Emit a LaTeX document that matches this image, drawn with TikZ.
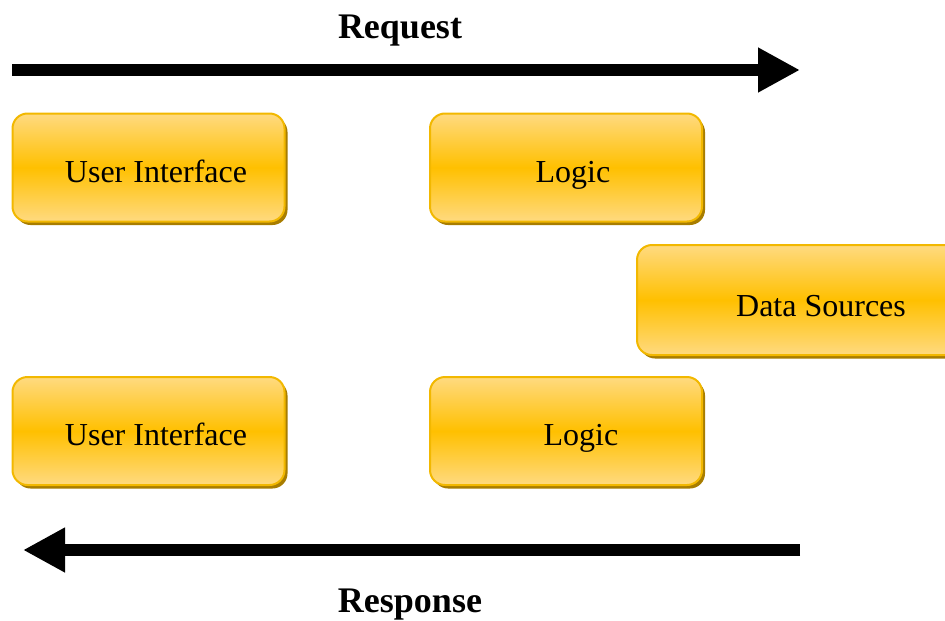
\documentclass[tikz,border=0pt]{standalone}
\usepackage{fontspec}
\setmainfont{Liberation Serif}
\usetikzlibrary{arrows.meta,shadows}
\definecolor{goldlight}{HTML}{FFDA80}
\definecolor{goldmid}{HTML}{FFC000}
\definecolor{goldborder}{HTML}{F2B800}
\definecolor{goldshadow}{HTML}{A87D00}
\begin{document}
\begin{tikzpicture}[x=1pt,y=1pt,
  box/.style={draw=goldborder, line width=2pt, rounded corners=15pt,
    top color=goldlight, bottom color=goldlight, middle color=goldmid,
    minimum width=272pt, minimum height=108pt, inner sep=0pt,
    general shadow={fill=goldshadow, shadow xshift=3pt, shadow yshift=-3.5pt}},
  lbl/.style={font=\fontsize{32}{36}\selectfont, inner sep=0pt, anchor=base},
  ttl/.style={font=\fontsize{36}{40}\selectfont\bfseries, inner sep=0pt, anchor=base},
  bigarrow/.style={line width=12pt, -{Triangle[length=42pt,width=42pt]}}]
\useasboundingbox (0,0) rectangle (945,-621);
\clip (0,0) rectangle (945,-621);
% titles
\node[ttl] (req) at (400,-38) {Request};
\node[ttl] (resp) at (410,-612) {Response};
% arrows
\coordinate (rqs) at (12,-70);
\coordinate (rqe) at (800,-70);
\coordinate (rss) at (800,-550);
\coordinate (rse) at (23,-550);
\draw[bigarrow] (rqs) -- (rqe);
\draw[bigarrow] (rss) -- (rse);
% boxes
\node[box] (ui1) at (148.5,-167.5) {};
\node[box] (lg1) at (566,-167.5) {};
\node[box, minimum width=330pt, minimum height=110pt] (ds) at (802,-300) {};
\node[box] (ui2) at (148.5,-431) {};
\node[box] (lg2) at (566,-431) {};
% labels
\node[lbl] (tui1) at (156,-182) {User Interface};
\node[lbl] (tlg1) at (573,-182) {Logic};
\node[lbl] (tds) at (821,-316) {Data Sources};
\node[lbl] (tui2) at (156,-445.5) {User Interface};
\node[lbl] (tlg2) at (581,-445.5) {Logic};
\end{tikzpicture}
\end{document}
